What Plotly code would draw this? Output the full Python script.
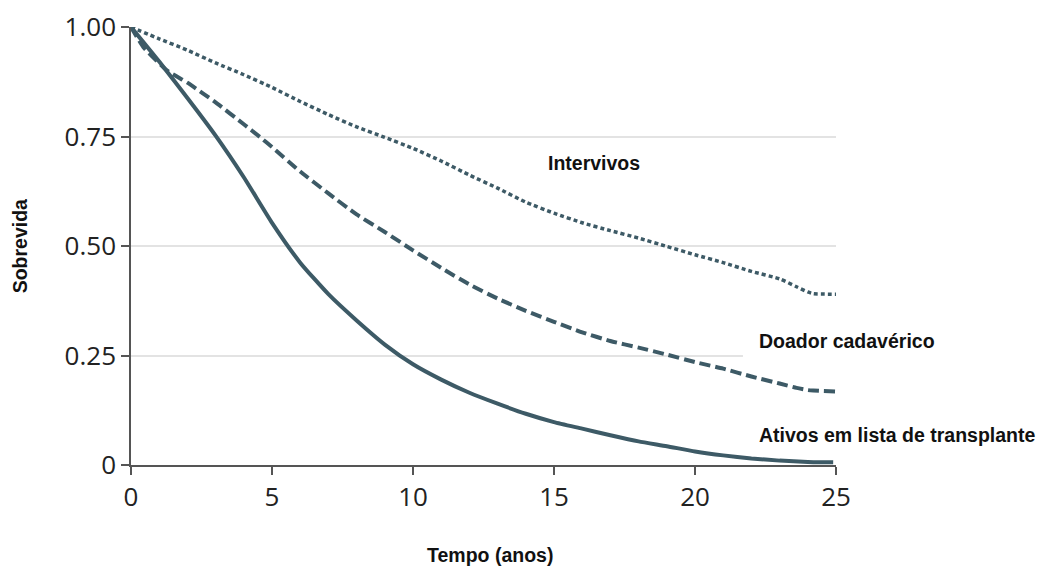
import plotly.graph_objects as go

# --- data ---
t_ativos = [0, 1, 2, 3, 4, 5, 6, 7, 8, 9, 10, 11, 12, 13, 14, 15, 16, 17, 18, 19, 20, 21, 22, 23, 24, 24.9]
s_ativos = [1.0, 0.921, 0.838, 0.752, 0.657, 0.553, 0.462, 0.39, 0.33, 0.275, 0.23, 0.195, 0.165, 0.14,
            0.117, 0.098, 0.083, 0.068, 0.054, 0.043, 0.031, 0.022, 0.015, 0.010, 0.007, 0.006]

t_cadaver = [0, 0.44, 1.27, 2, 2.56, 3, 4, 4.57, 5, 6, 7, 8, 9, 10, 11, 12, 13, 14, 15, 16, 17, 18, 19,
             20, 21, 22, 23, 23.6, 24, 24.2, 25]
s_cadaver = [1.0, 0.954, 0.901, 0.873, 0.848, 0.828, 0.778, 0.749, 0.726, 0.67, 0.62, 0.572, 0.532, 0.49,
             0.45, 0.412, 0.38, 0.352, 0.327, 0.303, 0.283, 0.268, 0.252, 0.235, 0.22, 0.202, 0.186,
             0.176, 0.171, 0.170, 0.168]

t_intervivos = [0, 1, 2, 3, 4, 5, 6, 7, 8, 9, 10, 11, 12, 13, 14, 15, 16, 17, 18, 19, 20, 21, 22, 23,
                23.6, 24, 24.2, 25]
s_intervivos = [1.0, 0.973, 0.947, 0.918, 0.891, 0.862, 0.83, 0.80, 0.772, 0.748, 0.723, 0.694, 0.662,
                0.632, 0.60, 0.575, 0.553, 0.535, 0.518, 0.499, 0.48, 0.462, 0.442, 0.425, 0.407, 0.395,
                0.391, 0.39]

x_ticks = [0, 5, 10, 15, 20, 25]
x_tick_labels = ["0", "5", "10", "15", "20", "25"]
y_ticks = [0, 0.25, 0.5, 0.75, 1.0]
y_tick_labels = ["0", "0.25", "0.50", "0.75", "1.00"]

labels = ["Intervivos", "Doador cadavérico", "Ativos em lista de transplante"]
label_x = [14.72, 22.2, 22.2]
label_y = [0.689, 0.282, 0.068]

LINE = "#3d5a66"
label_font = dict(family="Liberation Sans, Arial, Helvetica", size=19.5, color="#111111", weight="bold")
tick_font = dict(family="Open Sans, Noto Sans, sans-serif", size=26, color="#222222")

fig = go.Figure()
fig.add_trace(go.Scatter(x=t_intervivos, y=s_intervivos, mode="lines", name=labels[0],
                         line=dict(color=LINE, width=3.5, dash="4px,3px", shape="spline", smoothing=0.5),
                         cliponaxis=False))
fig.add_trace(go.Scatter(x=t_cadaver, y=s_cadaver, mode="lines", name=labels[1],
                         line=dict(color=LINE, width=4, dash="11px,5px", shape="spline", smoothing=0.5),
                         cliponaxis=False))
fig.add_trace(go.Scatter(x=t_ativos, y=s_ativos, mode="lines", name=labels[2],
                         line=dict(color=LINE, width=4, shape="spline", smoothing=0.5),
                         cliponaxis=False))

for txt, lx, ly in zip(labels, label_x, label_y):
    fig.add_annotation(x=lx, y=ly, xref="x", yref="y", text=txt, showarrow=False,
                       xanchor="left", yanchor="middle", font=label_font)

# axis titles
fig.add_annotation(x=0.509, y=-0.205, xref="paper", yref="paper", text="Tempo (anos)",
                   showarrow=False, xanchor="center", yanchor="middle", font=label_font)
fig.add_annotation(x=-0.157, y=0.5, xref="paper", yref="paper", text="Sobrevida", textangle=-90,
                   showarrow=False, xanchor="center", yanchor="middle", font=label_font)

# white gap in the 0.25 gridline before the "Doador cadavérico" label
fig.add_shape(type="rect", xref="x", yref="y", x0=21.7, x1=25, y0=0.24, y1=0.26,
              fillcolor="white", line=dict(width=0), layer="between")

fig.update_layout(
    width=1036, height=559,
    margin=dict(l=123, r=208, t=19, b=102, autoexpand=False),
    plot_bgcolor="white", paper_bgcolor="white",
    showlegend=False,
    font=dict(family="Open Sans, Noto Sans, sans-serif", color="#222222"),
)
fig.update_xaxes(range=[0, 25], tickvals=x_ticks, ticktext=x_tick_labels, automargin=False,
                 showgrid=False, zeroline=False, showline=True, linecolor="#555555", linewidth=1.5,
                 ticks="outside", ticklen=8, tickwidth=1.5, tickcolor="#555555", tickfont=tick_font)
fig.update_yaxes(range=[0, 1], tickvals=y_ticks, ticktext=y_tick_labels, automargin=False,
                 showgrid=True, gridcolor="#e3e3e3", gridwidth=2, zeroline=False,
                 showline=True, linecolor="#555555", linewidth=1.5,
                 ticks="outside", ticklen=8, tickwidth=1.5, tickcolor="#555555", tickfont=tick_font)

fig.write_html("out.html")
